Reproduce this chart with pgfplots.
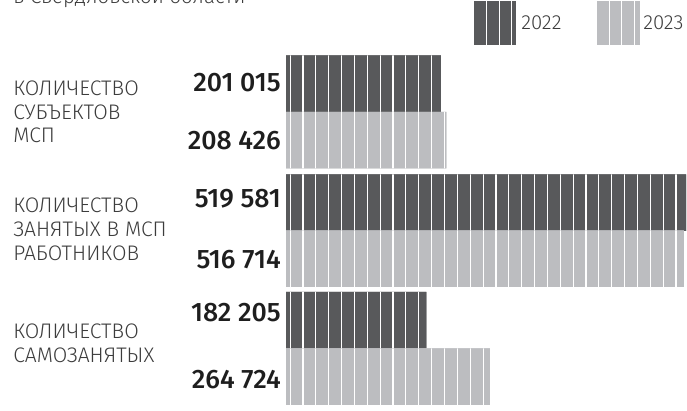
\documentclass[border=0pt]{standalone}
\usepackage{pgfplots}
\pgfplotsset{compat=1.18}
\usepackage{fontspec}
\setmainfont{Fira Sans}
\newfontfamily\lightfont{Fira Sans Light}
\newfontfamily\medfont{Fira Sans Medium}
\definecolor{darkbar}{HTML}{58595B}
\definecolor{lightbar}{HTML}{BCBDC0}
\definecolor{labeltext}{HTML}{3C3C3C}
\definecolor{numtext}{HTML}{1E1E1E}
\tikzset{stripes/.style={postaction={path picture={
  \foreach \k in {0,...,31}{
    \fill[white] ([xshift={(3.6+12.86*\k)*0.75pt}]path picture bounding box.south west) rectangle ++(0.85pt,400pt);
  }}}}}
\begin{document}
\begin{tikzpicture}
\useasboundingbox (0,0) rectangle (515.25pt,308.25pt);
\clip (0,0) rectangle (515.25pt,308.25pt);
\begin{axis}[at={(0,0)}, anchor=south west, scale only axis,
  width=515.25pt, height=308.25pt,
  xmin=-371500, xmax=520879, ymin=0, ymax=411, y dir=reverse,
  hide axis, xbar, bar width=56.5, bar shift=0pt]
\addplot[fill=darkbar, draw=none, stripes] coordinates {(201015,83.5) (519581,202.5) (182205,320)};
\addplot[fill=lightbar, draw=none, stripes] coordinates {(208426,140) (516714,258.5) (264724,376.5)};
\end{axis}
\begin{scope}[x=0.75pt, y=-0.75pt, yshift=308.25pt]
  % title fragment
  \node[anchor=base west, inner sep=0pt, text=labeltext, font=\lightfont\fontsize{15.3}{17.6}\selectfont] at (13,4) {в Свердловской области};
  % legend
  \fill[darkbar] (473,1) rectangle (516,45);
  \foreach \p in {473,486,498.7,511.3} \fill[white] (\p,1) rectangle ++(1.1,44);
  \fill[lightbar] (596,1) rectangle (640,45);
  \foreach \p in {596,608.7,621.3,634} \fill[white] (\p,1) rectangle ++(1.1,44);
  \node[anchor=west, inner sep=0pt, text=labeltext, font=\lightfont\fontsize{15.3}{17.6}\selectfont] at (521,23) {2022};
  \node[anchor=west, inner sep=0pt, text=labeltext, font=\lightfont\fontsize{15.3}{17.6}\selectfont] at (643,23) {2023};
  % category labels
  \begin{scope}[every node/.style={anchor=west, inner sep=0pt, align=left, text=labeltext, font=\lightfont\fontsize{15.8}{17.8}\selectfont}]
    \node at (13,112) {КОЛИЧЕСТВО\\СУБЪЕКТОВ\\МСП};
    \node at (13,229.5) {КОЛИЧЕСТВО\\ЗАНЯТЫХ В МСП\\РАБОТНИКОВ};
    \node at (13,343) {КОЛИЧЕСТВО\\САМОЗАНЯТЫХ};
  \end{scope}
  % values
  \begin{scope}[every node/.style={anchor=east, inner sep=0pt, text=numtext, font=\medfont\fontsize{20}{22}\selectfont}]
    \node at (281,83) {201 015};
    \node at (281,141) {208 426};
    \node at (281,199) {519 581};
    \node at (281,260) {516 714};
    \node at (281,313) {182 205};
    \node at (281,380) {264 724};
  \end{scope}
\end{scope}
\end{tikzpicture}
\end{document}
